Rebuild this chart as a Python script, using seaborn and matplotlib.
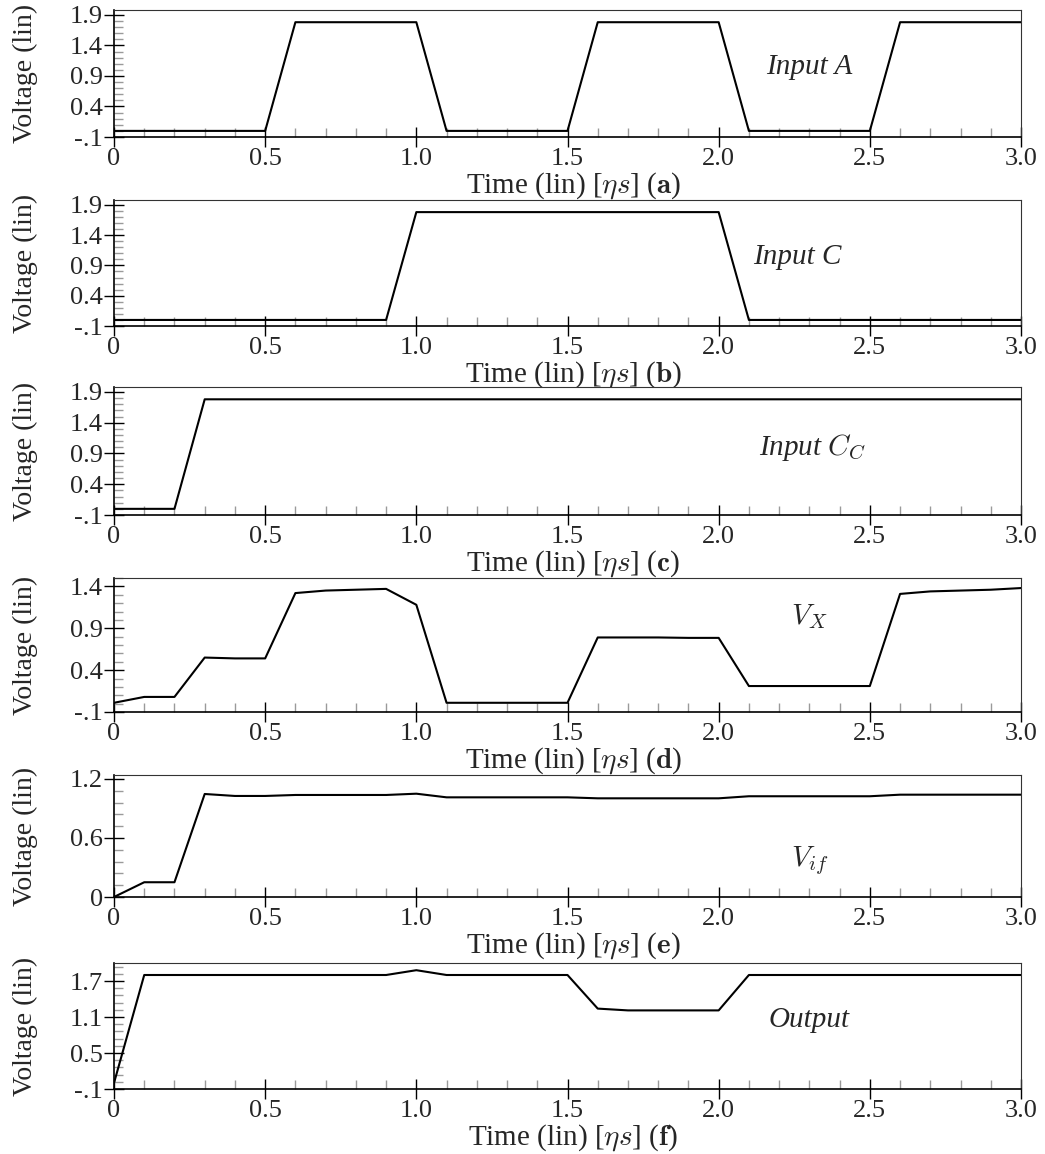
import numpy as np
import pandas as pd
import matplotlib
matplotlib.use("Agg")
import matplotlib.pyplot as plt
import matplotlib.transforms as mtransforms
from matplotlib.ticker import MultipleLocator, FixedLocator, FixedFormatter
import seaborn as sns

# time axis (ns)
time_ns = [0.0, 0.1, 0.2, 0.3, 0.4, 0.5, 0.6, 0.7, 0.8, 0.9, 1.0,
           1.1, 1.2, 1.3, 1.4, 1.5, 1.6, 1.7, 1.8, 1.9, 2.0,
           2.1, 2.2, 2.3, 2.4, 2.5, 2.6, 2.7, 2.8, 2.9, 3.0]

# signals
input_a = [0.0, 0.0, 0.0, 0.0, 0.0, 0.0, 1.78, 1.78, 1.78, 1.78, 1.78,
           0.0, 0.0, 0.0, 0.0, 0.0, 1.78, 1.78, 1.78, 1.78, 1.78,
           0.0, 0.0, 0.0, 0.0, 0.0, 1.78, 1.78, 1.78, 1.78, 1.78]
input_c = [0.0, 0.0, 0.0, 0.0, 0.0, 0.0, 0.0, 0.0, 0.0, 0.0, 1.78,
           1.78, 1.78, 1.78, 1.78, 1.78, 1.78, 1.78, 1.78, 1.78, 1.78,
           0.0, 0.0, 0.0, 0.0, 0.0, 0.0, 0.0, 0.0, 0.0, 0.0]
input_cc = [0.0, 0.0, 0.0, 1.78, 1.78, 1.78, 1.78, 1.78, 1.78, 1.78, 1.78,
            1.78, 1.78, 1.78, 1.78, 1.78, 1.78, 1.78, 1.78, 1.78, 1.78,
            1.78, 1.78, 1.78, 1.78, 1.78, 1.78, 1.78, 1.78, 1.78, 1.78]
v_x = [0.01, 0.08, 0.08, 0.55, 0.54, 0.54, 1.32, 1.35, 1.36, 1.37, 1.18,
       0.01, 0.01, 0.01, 0.01, 0.01, 0.79, 0.79, 0.79, 0.785, 0.785,
       0.21, 0.21, 0.21, 0.21, 0.21, 1.31, 1.34, 1.35, 1.36, 1.38]
v_if = [0.0, 0.15, 0.15, 1.047, 1.027, 1.027, 1.037, 1.037, 1.037, 1.037, 1.05,
        1.013, 1.013, 1.013, 1.013, 1.013, 1.003, 1.003, 1.003, 1.003, 1.003,
        1.024, 1.024, 1.024, 1.024, 1.024, 1.04, 1.04, 1.04, 1.04, 1.04]
output = [0.0, 1.8, 1.8, 1.8, 1.8, 1.8, 1.8, 1.8, 1.8, 1.8, 1.88,
          1.8, 1.8, 1.8, 1.8, 1.8, 1.24, 1.21, 1.21, 1.21, 1.21,
          1.8, 1.8, 1.8, 1.8, 1.8, 1.8, 1.8, 1.8, 1.8, 1.8]

signal_names = ["Input A", "Input C", "Input $C_C$", "$V_X$", "$V_{if}$", "Output"]
panel_letters = ["a", "b", "c", "d", "e", "f"]

x_ticks = [0.0, 0.5, 1.0, 1.5, 2.0, 2.5, 3.0]
x_ticklabels = ["0", "0.5", "1.0", "1.5", "2.0", "2.5", "3.0"]

y_ticks_in = [-0.1, 0.4, 0.9, 1.4, 1.9]
y_ticklabels_in = ["-.1", "0.4", "0.9", "1.4", "1.9"]
y_ticks_vx = [-0.1, 0.4, 0.9, 1.4]
y_ticklabels_vx = ["-.1", "0.4", "0.9", "1.4"]
y_ticks_vif = [0.0, 0.6, 1.2]
y_ticklabels_vif = ["0", "0.6", "1.2"]
y_ticks_out = [-0.1, 0.5, 1.1, 1.7]
y_ticklabels_out = ["-.1", "0.5", "1.1", "1.7"]

sns.set_style("ticks")
plt.rcParams['font.family'] = ['Liberation Serif', 'DejaVu Serif']
plt.rcParams['mathtext.fontset'] = 'cm'

signals = [input_a, input_c, input_cc, v_x, v_if, output]
yticks = [y_ticks_in, y_ticks_in, y_ticks_in, y_ticks_vx, y_ticks_vif, y_ticks_out]
yticklabels = [y_ticklabels_in, y_ticklabels_in, y_ticklabels_in,
               y_ticklabels_vx, y_ticklabels_vif, y_ticklabels_out]
ylims = [(-0.1, 1.98), (-0.1, 1.98), (-0.1, 1.98), (-0.1, 1.5), (0.0, 1.24), (-0.1, 2.0)]
yminor = [(0.1, 0.0), (0.1, 0.0), (0.1, 0.0), (0.1, 0.0), (0.12, 0.0), (0.12, -0.1)]

# layout in pixels: (top, bottom) of each panel
W, H = 1045, 1154
left_px, right_px = 114, 1021
panel_px = [(10, 137), (200, 326), (387, 515), (578, 712), (775, 897), (963, 1089)]
# name labels (x in ns, y as axes fraction)
label_pos = [(2.30, 0.55), (2.26, 0.55), (2.31, 0.53), (2.30, 0.71), (2.30, 0.30), (2.30, 0.55)]

fig = plt.figure(figsize=(W / 100, H / 100), dpi=100)

for i in range(6):
    top, bot = panel_px[i]
    ax = fig.add_axes([left_px / W, 1 - bot / H, (right_px - left_px) / W, (bot - top) / H])

    df = pd.DataFrame({"t": time_ns, "v": signals[i]})
    sns.lineplot(data=df, x="t", y="v", ax=ax, color="black", linewidth=1.5)

    ax.set_xlim(0, 3.0)
    ax.set_ylim(*ylims[i])

    ax.xaxis.set_major_locator(FixedLocator(x_ticks))
    ax.xaxis.set_major_formatter(FixedFormatter(x_ticklabels))
    ax.xaxis.set_minor_locator(MultipleLocator(0.1))
    ax.yaxis.set_major_locator(FixedLocator(yticks[i]))
    ax.yaxis.set_major_formatter(FixedFormatter(yticklabels[i]))
    base, off = yminor[i]
    ax.yaxis.set_minor_locator(MultipleLocator(base, offset=off))

    ax.tick_params(which="major", direction="inout", length=14, width=1.0,
                   color="black", labelsize=19, pad=1.0)
    ax.tick_params(which="minor", direction="in", length=6.5, width=1.0,
                   color="#9a9a9a")

    for side in ["left", "bottom"]:
        ax.spines[side].set_linewidth(1.2)
        ax.spines[side].set_color("black")
    for side in ["top", "right"]:
        ax.spines[side].set_linewidth(0.8)
        ax.spines[side].set_color("#333333")

    ax.set_ylabel("Voltage (lin)", fontsize=20, va="baseline")
    ylab_tr = mtransforms.offset_copy(ax.transAxes, fig=fig, x=-82, y=0, units="dots")
    ax.yaxis.set_label_coords(0.0, 0.5, transform=ylab_tr)

    ax.set_xlabel(r"Time (lin) [$\eta s$] ($\mathbf{" + panel_letters[i] + "}$)",
                  fontsize=21, va="baseline")
    xlab_tr = mtransforms.offset_copy(ax.transAxes, fig=fig, x=6, y=-56, units="dots")
    ax.xaxis.set_label_coords(0.5, 0.0, transform=xlab_tr)

    lx, ly = label_pos[i]
    style = "italic" if i in (0, 1, 2, 5) else "normal"
    ax.text(lx, ly, signal_names[i], transform=ax.get_xaxis_transform(), fontsize=21,
            fontstyle=style, ha="center", va="center")

fig.savefig("out.png", dpi=100)
